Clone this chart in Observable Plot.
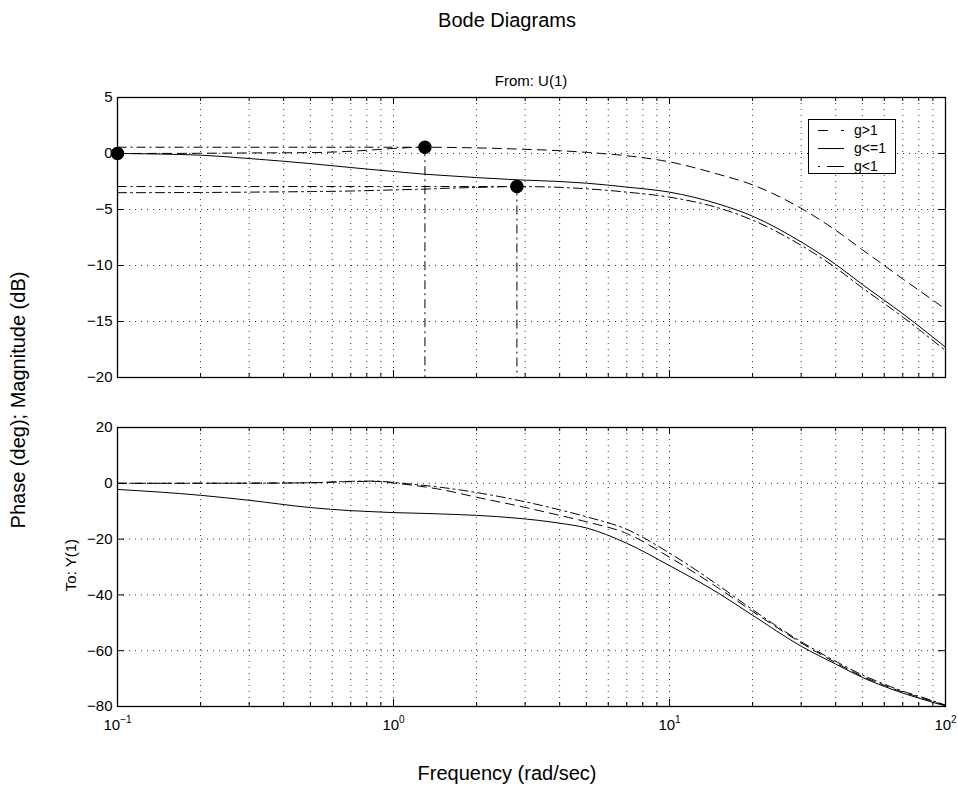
<!DOCTYPE html>
<html>
<head>
<meta charset="utf-8">
<script src="https://cdn.jsdelivr.net/npm/d3@7"></script>
<script src="https://cdn.jsdelivr.net/npm/@observablehq/plot@0.6"></script>
<style>
html,body{margin:0;padding:0;background:#fff;}
#fig{position:relative;width:958px;height:791px;overflow:hidden;background:#fff;font-family:"Liberation Sans",Arial,Helvetica,sans-serif;color:#000;}
.lbl{position:absolute;white-space:nowrap;line-height:1;transform:translate(-50%,-50%);}
.rot{transform:translate(-50%,-50%) rotate(-90deg);}
.panel{position:absolute;left:0;}
#legend{position:absolute;left:808px;top:119px;width:86px;height:53px;border:1px solid #000;background:#fff;font-size:14px;line-height:1;}
.row{position:absolute;left:0;height:18px;width:86px;}
.row svg{position:absolute;left:9px;top:8px;}
.row span{position:absolute;left:45px;top:2px;}
</style>
</head>
<body>
<div id="fig"></div>
<script>
// ---------- data ----------
const freq = [0.1,0.2,0.3,0.5,0.7,0.85,1,1.3,1.5,2,2.8,4,5,7,10,15,20,30,40,50,60,70,80,100];
const magGt1 = [0,0.02,0.05,0.08,0.2,0.33,0.45,0.56,0.55,0.5,0.4,0.25,0.1,-0.2,-0.75,-1.85,-2.8,-4.9,-6.85,-8.6,-10.0,-11.2,-12.2,-13.9];
const magLe1 = [0,-0.15,-0.45,-0.9,-1.25,-1.45,-1.6,-1.85,-1.95,-2.15,-2.35,-2.5,-2.65,-3.0,-3.45,-4.5,-5.6,-7.9,-9.9,-11.7,-13.1,-14.3,-15.4,-17.3];
const magLt1 = [-3.5,-3.48,-3.45,-3.4,-3.35,-3.3,-3.25,-3.18,-3.12,-3.03,-2.95,-3.02,-3.15,-3.45,-3.9,-4.85,-5.95,-8.2,-10.2,-12.0,-13.4,-14.6,-15.7,-17.6];
const phaseGt1 = [0,0.02,0.05,0.2,0.6,0.7,0.1,-1.3,-2.3,-5.0,-8.0,-11.5,-13.8,-18.0,-26.5,-37.5,-45.9,-57.2,-64.3,-69.2,-72.4,-74.8,-76.6,-79.6];
const phaseLt1 = [0,0.02,0.05,0.2,0.7,0.8,0.3,-0.8,-1.5,-3.3,-6.0,-9.5,-12.0,-16.5,-25.0,-36.5,-45.3,-56.8,-63.8,-68.7,-72.0,-74.5,-76.3,-79.5];
const phaseLe1 = [-2.2,-4.3,-6.1,-8.7,-9.8,-10.2,-10.5,-10.8,-11.0,-11.5,-12.5,-14.3,-16.0,-21.5,-29.5,-39.3,-47.3,-58.4,-64.8,-69.6,-72.8,-75.2,-77.0,-79.8];
const markFreq = [0.1, 1.3, 2.8];
const markMag = [0, 0.56, -2.95];
const guideFreq = [1.3, 2.8];
const guideMag = [0.56, -2.95];

const xDecades = [0.1, 1, 10, 100];
const xTickText = ["10^-1", "10^0", "10^1", "10^2"];
const xMinor = [0.2,0.3,0.4,0.5,0.6,0.7,0.8,0.9,2,3,4,5,6,7,8,9,20,30,40,50,60,70,80,90];
const xGridInner = [...xMinor, 1, 10];
const magTicks = [5,0,-5,-10,-15,-20];
const magGrid = [0,-5,-10,-15];
const phaseTicks = [20,0,-20,-40,-60,-80];
const phaseGrid = [0,-20,-40,-60];

const seriesNames = ["g>1", "g<=1", "g<1"];
const seriesDash = ["9,6", null, "9,4,2,4"];
const legendDash = ["10,13,3,10", null, "2,7,17,10"];
const guideDash = "9,4,2,4";

// ---------- helpers ----------
const W = 958, ML = 117, MR = 13;
const minus = d => d < 0 ? "\u2212" + Math.abs(d) : String(d);
const rows = vals => freq.map((f, i) => ({f, v: vals[i]}));

function panel({yDomain, yTicks, yGrid, frameH, mt, mb, series, extra, xLabels}) {
  const fw = W - ML - MR;
  const dot = {stroke: "#000", strokeOpacity: 0.8, strokeWidth: 1, strokeDasharray: "1,5"};
  const marks = [
    Plot.ruleX(xGridInner, {x: d => d, ...dot}),
    Plot.ruleY(yGrid, {y: d => d, ...dot}),
    Plot.ruleX(xDecades, {x: d => d, insetTop: frameH - 7, stroke: "#000"}),
    Plot.ruleX(xDecades, {x: d => d, insetBottom: frameH - 7, stroke: "#000"}),
    Plot.ruleX(xMinor, {x: d => d, insetTop: frameH - 4, stroke: "#000"}),
    Plot.ruleX(xMinor, {x: d => d, insetBottom: frameH - 4, stroke: "#000"}),
    Plot.ruleY(yTicks, {y: d => d, insetRight: fw - 7, stroke: "#000"}),
    Plot.ruleY(yTicks, {y: d => d, insetLeft: fw - 7, stroke: "#000"}),
    ...series.map((vals, i) => Plot.line(rows(vals), {
      x: "f", y: "v", curve: "monotone-x", stroke: "#000", strokeWidth: 1,
      strokeDasharray: seriesDash[i] ?? undefined
    })),
    ...extra,
    Plot.frame({stroke: "#000", strokeWidth: 1.3}),
    Plot.axisY(yTicks, {anchor: "left", tickSize: 0, tickPadding: 5, tickFormat: minus, label: null, fontSize: 15})
  ];
  if (xLabels) {
    marks.push(Plot.axisX(xDecades, {anchor: "bottom", tickSize: 0, tickPadding: 13, label: null, fontSize: 15,
      tickFormat: d => xTickText[xDecades.indexOf(d)]}));
  }
  return Plot.plot({
    width: W, height: mt + frameH + mb,
    marginLeft: ML, marginRight: MR, marginTop: mt, marginBottom: mb,
    x: {type: "log", domain: [0.1, 100], axis: xLabels ? undefined : null},
    y: {domain: yDomain},
    style: {fontFamily: '"Liberation Sans", Arial, Helvetica, sans-serif', color: "#000", background: "transparent", overflow: "visible"},
    marks
  });
}

const fig = document.getElementById("fig");

// ---------- magnitude panel ----------
const guides = guideFreq.map((f, i) => ({f, v: guideMag[i]}));
const marks = markFreq.map((f, i) => ({f, v: markMag[i]}));
const topSvg = panel({
  yDomain: [-20, 5], yTicks: magTicks, yGrid: magGrid, frameH: 280, mt: 10, mb: 10,
  series: [magGt1, magLe1, magLt1],
  extra: [
    Plot.link(guides, {x1: () => 0.1, x2: "f", y1: "v", y2: "v", stroke: "#000", strokeWidth: 1, strokeDasharray: guideDash}),
    Plot.link(guides, {x1: "f", x2: "f", y1: "v", y2: () => -20, stroke: "#000", strokeWidth: 1, strokeDasharray: guideDash}),
    Plot.dot(marks, {x: "f", y: "v", r: 6, fill: "#000", stroke: "#000"})
  ],
  xLabels: false
});
topSvg.classList.add("panel");
topSvg.style.top = "87px";
fig.appendChild(topSvg);

// ---------- phase panel ----------
const botSvg = panel({
  yDomain: [-80, 20], yTicks: phaseTicks, yGrid: phaseGrid, frameH: 279, mt: 10, mb: 45,
  series: [phaseGt1, phaseLe1, phaseLt1],
  extra: [],
  xLabels: true
});
botSvg.classList.add("panel");
botSvg.style.top = "417px";
fig.appendChild(botSvg);

// superscript exponents on the x tick labels
botSvg.querySelectorAll("text").forEach(t => {
  const m = /^10\^(.+)$/.exec(t.textContent);
  if (!m) return;
  t.textContent = "";
  const base = document.createElementNS("http://www.w3.org/2000/svg", "tspan");
  base.textContent = "10";
  const sup = document.createElementNS("http://www.w3.org/2000/svg", "tspan");
  sup.textContent = m[1].replace("-", "\u2212");
  sup.setAttribute("dy", "-7");
  sup.setAttribute("font-size", "10");
  t.appendChild(base);
  t.appendChild(sup);
});

// ---------- texts ----------
function label(text, x, y, size, rotate) {
  const d = document.createElement("div");
  d.className = "lbl" + (rotate ? " rot" : "");
  d.textContent = text;
  d.style.left = x + "px";
  d.style.top = y + "px";
  d.style.fontSize = size + "px";
  fig.appendChild(d);
}
label("Bode Diagrams", 507, 20, 20);
label("From: U(1)", 531, 80, 15);
label("Phase (deg); Magnitude (dB)", 18, 400, 20, true);
label("To: Y(1)", 70, 565, 15, true);
label("Frequency (rad/sec)", 507, 773, 20);

// ---------- legend ----------
const leg = document.createElement("div");
leg.id = "legend";
seriesNames.forEach((name, i) => {
  const r = document.createElement("div");
  r.className = "row";
  r.style.top = (1 + i * 18) + "px";
  const dash = legendDash[i] ? ` stroke-dasharray="${legendDash[i]}"` : "";
  r.innerHTML = `<svg width="26" height="3"><line x1="0" y1="1.5" x2="26" y2="1.5" stroke="#000" stroke-width="1"${dash}/></svg><span></span>`;
  r.querySelector("span").textContent = name;
  leg.appendChild(r);
});
fig.appendChild(leg);
</script>
</body>
</html>
